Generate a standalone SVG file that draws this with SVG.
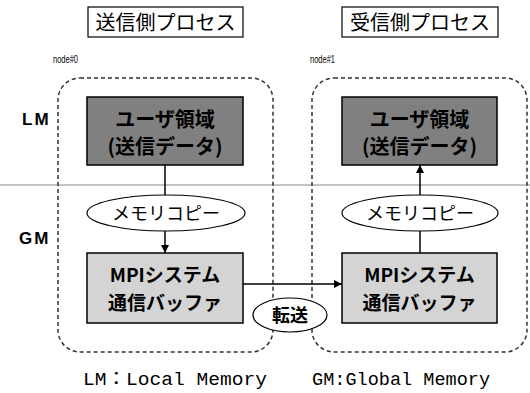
<svg xmlns="http://www.w3.org/2000/svg" width="530" height="393" viewBox="0 0 530 393">
  <defs>
    <marker id="arrow" viewBox="0 0 10 10" refX="10" refY="5" markerWidth="8" markerHeight="8" markerUnits="userSpaceOnUse" orient="auto">
      <path d="M0,0 L10,5 L0,10 Z" fill="#000"/>
    </marker>
    <style>
      .jp { font-family: "Noto Sans CJK JP", "Noto Sans", sans-serif; fill: #000; }
      .title { font-size: 20px; }
      .bold { font-weight: bold; }
      .lbl { font-family: "Liberation Sans", Arial, sans-serif; font-weight: bold; font-size: 17px; }
      .mono { font-family: "Liberation Mono", "Noto Sans CJK JP", monospace; font-size: 18px; }
      .small { font-family: "Liberation Sans", Arial, sans-serif; font-size: 11px; }
      .frame { fill: none; stroke: #333; stroke-width: 1.5; stroke-dasharray: 4 3; }
      .dark { fill: #808080; stroke: #000; stroke-width: 1.5; }
      .light { fill: #d4d4d4; stroke: #000; stroke-width: 1.5; }
      .oval { fill: #fff; stroke: #000; stroke-width: 1.2; }
      .edge { fill: none; stroke: #000; stroke-width: 1.5; }
    </style>
  </defs>

  <rect width="530" height="393" fill="#fff"/>

  <!-- LM / GM separator -->
  <line x1="0" y1="185" x2="530" y2="185" stroke="#888" stroke-width="1"/>
  <text class="lbl" x="22" y="125" letter-spacing="2">LM</text>
  <text class="lbl" x="19" y="244" letter-spacing="2">GM</text>

  <!-- process frames -->
  <g id="sender-process">
    <rect x="88" y="7" width="155" height="30" fill="#fff" stroke="#000" stroke-width="1.2"/>
    <text class="jp title" x="165.5" y="30" text-anchor="middle">送信側プロセス</text>
    <text class="small" x="53" y="63" textLength="25" lengthAdjust="spacingAndGlyphs">node#0</text>
    <rect class="frame" x="58" y="78" width="215" height="274" rx="22"/>
  </g>
  <g id="receiver-process">
    <rect x="342" y="7" width="156" height="30" fill="#fff" stroke="#000" stroke-width="1.2"/>
    <text class="jp title" x="420" y="30" text-anchor="middle">受信側プロセス</text>
    <text class="small" x="310" y="63" textLength="25" lengthAdjust="spacingAndGlyphs">node#1</text>
    <rect class="frame" x="312" y="78" width="215" height="274" rx="22"/>
  </g>

  <!-- connectors -->
  <g id="connectors">
    <line class="edge" x1="165" y1="165" x2="165" y2="195"/>
    <line class="edge" x1="165" y1="231" x2="165" y2="253" marker-end="url(#arrow)"/>
    <line class="edge" x1="243" y1="284" x2="342" y2="284" marker-end="url(#arrow)"/>
    <line class="edge" x1="420" y1="253" x2="420" y2="231"/>
    <line class="edge" x1="420" y1="195" x2="420" y2="165" marker-end="url(#arrow)"/>
  </g>

  <!-- sender side -->
  <g id="send-user-area">
    <rect class="dark" x="87" y="97" width="156" height="68"/>
    <text class="jp bold" x="165" y="127" font-size="20" text-anchor="middle">ユーザ領域</text>
    <text class="jp bold" x="165" y="154" font-size="20" text-anchor="middle">(送信データ)</text>
  </g>
  <g id="send-memcopy">
    <ellipse class="oval" cx="166" cy="213" rx="79" ry="18"/>
    <text class="jp" x="166" y="220" font-size="18" text-anchor="middle">メモリコピー</text>
  </g>
  <g id="send-buffer">
    <rect class="light" x="87" y="253" width="156" height="70"/>
    <text class="jp bold" x="165" y="282" font-size="19" text-anchor="middle">MPIシステム</text>
    <text class="jp bold" x="165" y="310" font-size="19" text-anchor="middle">通信バッファ</text>
  </g>

  <!-- receiver side -->
  <g id="recv-user-area">
    <rect class="dark" x="342" y="97" width="155" height="68"/>
    <text class="jp bold" x="419.5" y="127" font-size="20" text-anchor="middle">ユーザ領域</text>
    <text class="jp bold" x="419.5" y="154" font-size="20" text-anchor="middle">(送信データ)</text>
  </g>
  <g id="recv-memcopy">
    <ellipse class="oval" cx="420" cy="213" rx="78" ry="18"/>
    <text class="jp" x="420" y="220" font-size="18" text-anchor="middle">メモリコピー</text>
  </g>
  <g id="recv-buffer">
    <rect class="light" x="342" y="253" width="155" height="70"/>
    <text class="jp bold" x="419.5" y="282" font-size="19" text-anchor="middle">MPIシステム</text>
    <text class="jp bold" x="419.5" y="310" font-size="19" text-anchor="middle">通信バッファ</text>
  </g>

  <!-- transfer -->
  <g id="transfer">
    <ellipse class="oval" cx="290" cy="315" rx="37" ry="17"/>
    <text class="jp bold" x="290" y="322" font-size="18" text-anchor="middle">転送</text>
  </g>

  <!-- legend -->
  <text class="mono" x="83" y="385" textLength="184" lengthAdjust="spacingAndGlyphs">LM：Local Memory</text>
  <text class="mono" x="312" y="385" textLength="178" lengthAdjust="spacingAndGlyphs">GM:Global Memory</text>
</svg>
